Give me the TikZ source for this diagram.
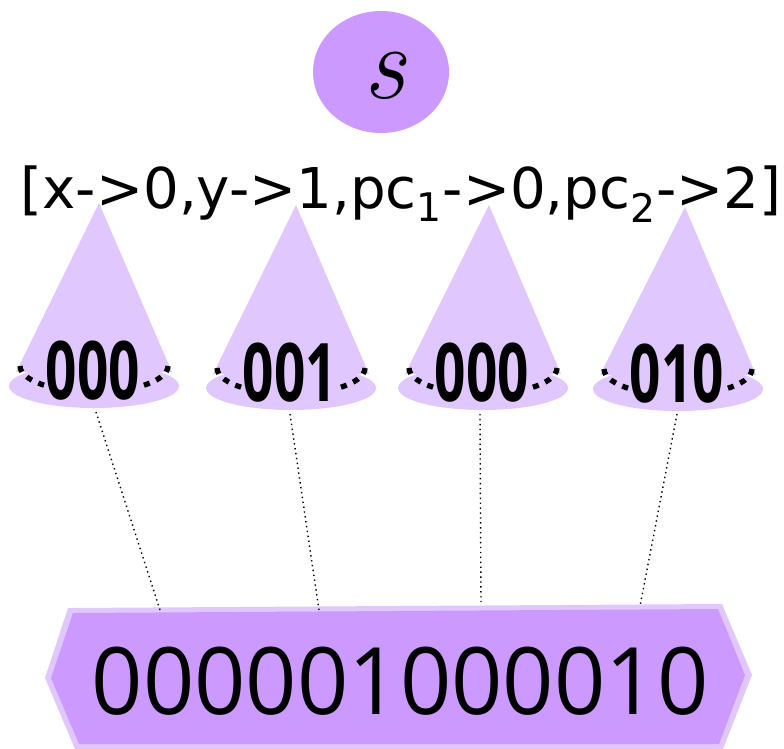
\documentclass[tikz,border=0pt]{standalone}
\usepackage{fontspec}
\setsansfont{DejaVu Sans}
\newfontfamily\bitfont{Open Sans}
\usepackage{tikz}
\definecolor{lilac}{HTML}{CC99FF}
\definecolor{pale}{HTML}{E0C8FF}

\begin{document}
\begin{tikzpicture}[x=0.02cm,y=-0.02cm]
  \useasboundingbox (0,0) rectangle (784,748);
  \tikzset{
    bitlabel/.style={font=\bitfont\bfseries\fontsize{46}{46}\selectfont,inner sep=0pt},
    rim/.style={line width=3pt,dash pattern=on 3.5pt off 4pt}
  }
  % state s and its valuation
  \fill[lilac] (381,72) ellipse [x radius=68, y radius=61];
  \node[anchor=base,inner sep=0pt] (s) at (385,98) {\fontsize{60}{60}\selectfont\rmfamily\itshape s};
  \node[anchor=base,inner sep=0pt,font=\sffamily\fontsize{32}{32}\selectfont] (val) at (401,208)
    {[x->0,y->1,pc\textsubscript{1}->0,pc\textsubscript{2}->2]};
  % cone 1
  \fill[pale] (99,203) -- (16,372) -- (172,372) -- cycle;
  \fill[pale] (94,386) ellipse [x radius=85, y radius=22];
  \draw[rim] (20,366) arc[start angle=180, end angle=128, x radius=74, y radius=26];
  \draw[rim] (168,366) arc[start angle=0, end angle=52, x radius=74, y radius=26];
  \node[bitlabel] (k1) at (93,371) {\scalebox{0.68}[1]{000}};
  % cone 2
  \fill[pale] (296,205) -- (213,374) -- (369,374) -- cycle;
  \fill[pale] (291,388) ellipse [x radius=85, y radius=22];
  \draw[rim] (217,368) arc[start angle=180, end angle=128, x radius=74, y radius=26];
  \draw[rim] (365,368) arc[start angle=0, end angle=52, x radius=74, y radius=26];
  \node[bitlabel] (k2) at (290,373) {\scalebox{0.68}[1]{001}};
  % cone 3
  \fill[pale] (489,205) -- (405,374) -- (561,374) -- cycle;
  \fill[pale] (483,388) ellipse [x radius=85, y radius=22];
  \draw[rim] (409,368) arc[start angle=180, end angle=128, x radius=74, y radius=26];
  \draw[rim] (557,368) arc[start angle=0, end angle=52, x radius=74, y radius=26];
  \node[bitlabel] (k3) at (482,373) {\scalebox{0.68}[1]{000}};
  % cone 4
  \fill[pale] (685,207) -- (600,375) -- (756,375) -- cycle;
  \fill[pale] (678,389) ellipse [x radius=85, y radius=22];
  \draw[rim] (604,369) arc[start angle=180, end angle=128, x radius=74, y radius=26];
  \draw[rim] (752,369) arc[start angle=0, end angle=52, x radius=74, y radius=26];
  \node[bitlabel] (k4) at (677,374) {\scalebox{0.68}[1]{010}};
  % encoded word
  \fill[pale] (68,608) -- (722,604) -- (752,675) -- (723,749) -- (75,749) -- (45,678) -- cycle;
  \fill[lilac] (73,613) -- (718,609) -- (745,675) -- (719,744) -- (79,744) -- (51,678) -- cycle;
  \node[anchor=base,inner sep=0pt,font=\bitfont\fontsize{53}{53}\selectfont] (word) at (400,714)
    {\scalebox{0.965}[1]{000001000010}};
  % dotted links cone -> word
  \coordinate (t1) at (96,412);  \coordinate (b1) at (160,610);
  \coordinate (t2) at (290,414); \coordinate (b2) at (319,610);
  \coordinate (t3) at (480,414); \coordinate (b3) at (481,602);
  \coordinate (t4) at (677,414); \coordinate (b4) at (640,606);
  \draw[dotted,line width=0.8pt] (t1) -- (b1);
  \draw[dotted,line width=0.8pt] (t2) -- (b2);
  \draw[dotted,line width=0.8pt] (t3) -- (b3);
  \draw[dotted,line width=0.8pt] (t4) -- (b4);
\end{tikzpicture}
\end{document}
